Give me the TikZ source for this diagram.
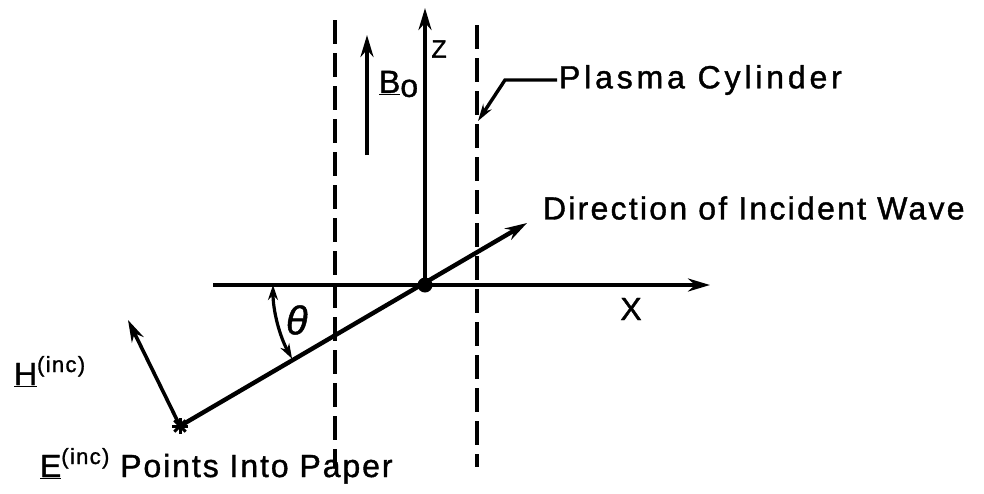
\documentclass[tikz,border=0pt]{standalone}
\usepackage{fontspec}
\setmainfont{Liberation Sans}[LetterSpace=6,FakeBold=1.2]
\usetikzlibrary{arrows.meta}
\begin{document}
\begin{tikzpicture}[x=1pt,y=-1pt,line width=4pt,
  lbl/.style={inner sep=0pt,font=\fontsize{32}{38}\selectfont},
  bigtip/.style={-{Stealth[length=22pt,width=13pt]}},
  midtip/.style={-{Stealth[length=17pt,width=10pt]}},
  arctip/.style={{Stealth[length=15pt,width=10pt]}-{Stealth[length=15pt,width=10pt]},line width=3.2pt},
  dashln/.style={line width=3.3pt,dash pattern=on 24pt off 9pt}]
\useasboundingbox (0,0) rectangle (984,493);
% key points
\coordinate (O) at (425,285);
\coordinate (xs) at (213,285);
\coordinate (xe) at (710,285);
\coordinate (ze) at (425,8);
\coordinate (dlt) at (335,20);
\coordinate (dlb) at (335,467);
\coordinate (drt) at (477,25);
\coordinate (drb) at (477,467);
\coordinate (bs) at (367,155);
\coordinate (be) at (367,35);
\coordinate (S) at (180,426);
\coordinate (W) at (527,223);
\coordinate (Ht) at (128,320);
\coordinate (lk) at (505,80);
\coordinate (lt) at (478,121);
% dashed cylinder
\draw[dashln] (dlt) -- (dlb);
\draw[dashln] (drt) -- (drb);
% axes
\draw[bigtip] (xs) -- (xe);
\draw[bigtip] (O) -- (ze);
\draw[bigtip] (bs) -- (be);
% incident wave
\draw[bigtip,line width=4.4pt] (S) -- (W);
\draw[bigtip,line width=3.6pt] (S) -- (Ht);
\fill (O) circle (7.5);
\foreach \a in {0,45,90,135} \draw[line width=3pt] (S) ++(\a:8) -- ++(\a+180:16);
% angle arc
\draw[arctip] (O) ++(180:152) arc[start angle=180,end angle=151,radius=152];
% labels
\node[lbl,font=\fontsize{25}{30}\selectfont] (zl) at (439,49) {Z};
\node[lbl,anchor=west] (bl) at (377,84) {\underline{B}\raisebox{-4pt}{o}};
\node[lbl,anchor=west] (pc) at (557,80) {\addfontfeature{LetterSpace=12}Plasma Cylinder};
\draw[midtip,line width=3.4pt] (pc.west) -- (lk) -- (lt);
\node[lbl,anchor=west] (dw) at (541,208) {\addfontfeature{LetterSpace=7}Direction of Incident Wave};
\node[lbl] (xl) at (631,309) {X};
\node[lbl,font=\fontsize{40}{44}\selectfont] (th) at (298,320) {\textit{θ}};
\node[lbl,anchor=base west] (hl) at (12,385) {\underline{H}\raisebox{13pt}{\fontsize{22}{24}\selectfont(inc)}};
\node[lbl,anchor=base west] (el) at (38,477) {\underline{E}\raisebox{13pt}{\fontsize{22}{24}\selectfont(inc)} Points Into Paper};
\end{tikzpicture}
\end{document}
